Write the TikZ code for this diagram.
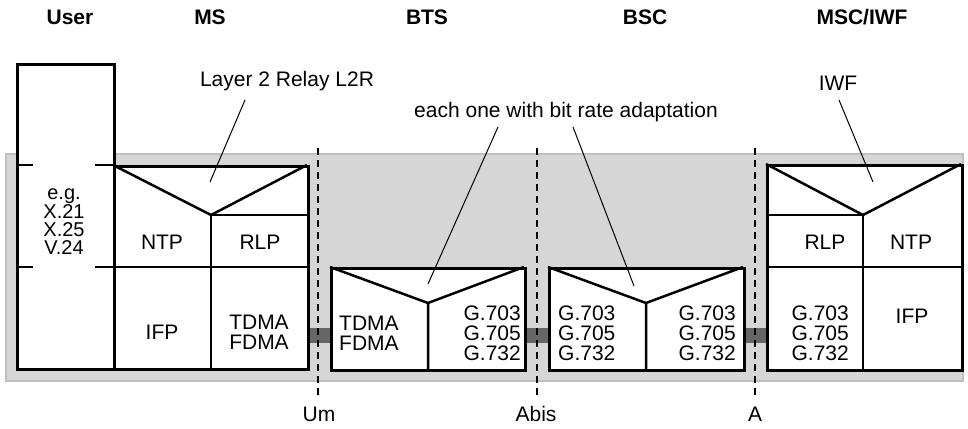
\documentclass[tikz,border=0pt]{standalone}
\usepackage{fontspec}
\setmainfont{Liberation Sans}
\usetikzlibrary{calc}
\begin{document}
\begin{tikzpicture}[x=1pt,y=-1pt,
  box/.style={draw, line width=2.8pt, fill=white, inner sep=0pt, anchor=north west},
  inner/.style={line width=2.5pt},
  lbl/.style={font=\fontsize{21}{20}\selectfont, inner sep=0pt, align=center},
  hdr/.style={font=\fontsize{21}{21}\selectfont\bfseries, inner sep=0pt},
  pointer/.style={line width=1pt},
  sep/.style={line width=2.6pt, dash pattern=on 7pt off 5pt},
  bar/.style={line width=15pt, draw=black!60}]
\useasboundingbox (0,0) rectangle (968,428);
% background band
\node[draw=black!25, line width=2pt, fill=black!16, minimum width=957pt, minimum height=227pt, anchor=north west] (bg) at (5,153) {};
% connector bars
\coordinate (b1a) at (307,335.5); \coordinate (b1b) at (330,335.5);
\coordinate (b2a) at (524,335.5); \coordinate (b2b) at (548,335.5);
\coordinate (b3a) at (743,335.5); \coordinate (b3b) at (766,335.5);
\draw[bar] (b1a) -- (b1b);
\draw[bar] (b2a) -- (b2b);
\draw[bar] (b3a) -- (b3b);
% user
\node[box, minimum width=97pt, minimum height=305pt] (user) at (16,63) {};
\draw[inner] (16,165) -- (33,165) (95,165) -- (113,165);
\draw[inner] (16,267) -- (33,267) (95,267) -- (113,267);
% MS
\node[box, minimum width=194pt, minimum height=203pt] (ms) at (113,165) {};
\draw[inner] (113,165) -- (211,215) -- (307,165);
\draw[inner] (211,215) -- (211,368) (211,215) -- (307,215) (113,267) -- (307,267);
% BTS
\node[box, minimum width=194pt, minimum height=102pt] (bts) at (330,267) {};
\draw[inner] (330,267) -- (428,303) -- (524,267) (428,303) -- (428,369);
% BSC
\node[box, minimum width=195pt, minimum height=102pt] (bsc) at (548,267) {};
\draw[inner] (548,267) -- (646,303) -- (743,267) (646,303) -- (646,369);
% MSC
\node[box, minimum width=195pt, minimum height=205pt] (msc) at (766,164) {};
\draw[inner] (766,164) -- (863,215) -- (961,164);
\draw[inner] (766,215) -- (863,215) (863,215) -- (863,369) (766,267) -- (961,267);
% dashed interfaces
\coordinate (umt) at (318,148); \coordinate (umb) at (318,398);
\coordinate (abt) at (537,148); \coordinate (abb) at (537,398);
\coordinate (at) at (755,148); \coordinate (ab) at (755,398);
\draw[sep] (umt) -- (umb);
\draw[sep] (abt) -- (abb);
\draw[sep] (at) -- (ab);
% texts in boxes
\node[lbl, font=\fontsize{20}{18}\selectfont] (eg) at (64,222) {e.g.\\X.21\\X.25\\V.24};
\node[lbl] (ntp1) at (162,242) {NTP};
\node[lbl] (rlp1) at (260,242) {RLP};
\node[lbl] (ifp1) at (162,332) {IFP};
\node[lbl] (tf1) at (259,332) {TDMA\\FDMA};
\node[lbl, anchor=west, align=left] (tf2) at (339,333) {TDMA\\FDMA};
\node[lbl, anchor=east, align=right] (g1) at (521,333) {G.703\\G.705\\G.732};
\node[lbl, anchor=west, align=left] (g2) at (558,333) {G.703\\G.705\\G.732};
\node[lbl, anchor=east, align=right] (g3) at (736,333) {G.703\\G.705\\G.732};
\node[lbl] (rlp2) at (825,242) {RLP};
\node[lbl] (ntp2) at (911,242) {NTP};
\node[lbl, anchor=east, align=right] (g4) at (849,333) {G.703\\G.705\\G.732};
\node[lbl] (ifp2) at (912,316) {IFP};
% headers
\node[hdr] (hu) at (70,17) {User};
\node[hdr] (hms) at (210,17) {MS};
\node[hdr] (hbts) at (427,17) {BTS};
\node[hdr] (hbsc) at (645,17) {BSC};
\node[hdr] (hmsc) at (862,17) {MSC/IWF};
% annotations
\node[lbl] (l2r) at (287,81) {Layer 2 Relay L2R};
\node[lbl] (rate) at (566,112) {each one with bit rate adaptation};
\node[lbl] (iwf) at (838,83) {IWF};
\coordinate (p1s) at (245,100); \coordinate (p1e) at (210,182);
\coordinate (p2s) at (498,127); \coordinate (p2e) at (428,284);
\coordinate (p3s) at (573,127); \coordinate (p3e) at (634,286);
\coordinate (p4s) at (839,100); \coordinate (p4e) at (873,182);
\draw[pointer] (p1s) -- (p1e);
\draw[pointer] (p2s) -- (p2e);
\draw[pointer] (p3s) -- (p3e);
\draw[pointer] (p4s) -- (p4e);
% interface labels
\node[lbl] (um) at (319,414) {Um};
\node[lbl] (abis) at (536,414) {Abis};
\node[lbl] (a) at (755,414) {A};
\end{tikzpicture}
\end{document}
